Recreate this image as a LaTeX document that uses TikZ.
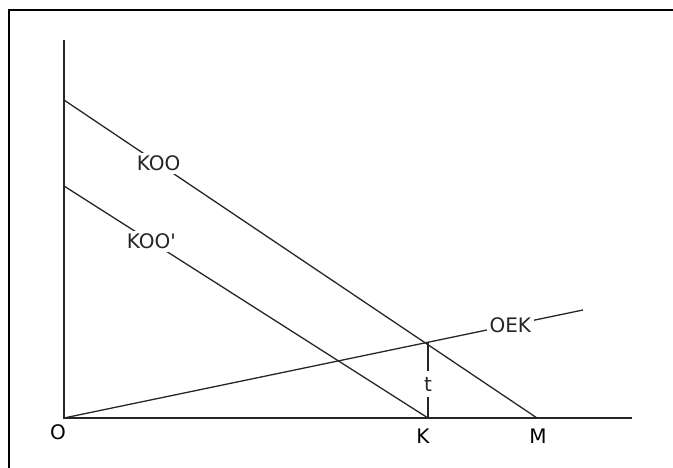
\documentclass[tikz,border=0pt]{standalone}
\usepackage{fontspec}
\setmainfont{DejaVu Sans}
\usetikzlibrary{calc}

\begin{document}
\begin{tikzpicture}[x=1pt, y=-1pt,
    axisline/.style={line width=1.8pt, black!85},
    curveline/.style={line width=1.3pt, black!85},
    lbl/.style={font=\fontsize{20}{22}\selectfont, fill=white, inner sep=3pt},
    tick/.style={font=\fontsize{20}{22}\selectfont, inner sep=0pt}]

    \useasboundingbox (0,0) rectangle (673,468);

    % ;- frame ;-
    \draw[line width=2pt] (9,490) -- (9,10) -- (700,10);

    % ;- axes ;-
    \coordinate (O) at (64,418);
    \coordinate (ytop) at (64,40);
    \coordinate (xend) at (632,418);
    \coordinate (K) at (428,418);
    \coordinate (M) at (537,418);
    \draw[axisline] (ytop) -- (O) -- (xend);
    \node[tick] (lO) at (58,432) {O};
    \node[tick] (lK) at (423,436) {K};
    \node[tick] (lM) at (538,436) {M};

    % ;- demand lines ;-
    \coordinate (koo0) at (64,100);
    \coordinate (koop0) at (64,186);
    \draw[curveline] (koo0) -- (M) node[lbl, pos=0.2] (lkoo) {KOO};
    \draw[curveline] (koop0) -- (K) node[lbl, pos=0.24] (lkoop) {KOO\textquotesingle};

    % ;- supply line ;-
    \coordinate (oek1) at (583,310);
    \draw[curveline] (O) -- (oek1) node[lbl, pos=0.86] (loek) {OEK};

    % ;- tax wedge ;-
    \coordinate (X) at (intersection of O--oek1 and koo0--M);
    \draw[line width=1.6pt, black!85] (K) -- (K |- X)
        node[lbl, inner ysep=6pt, pos=0.45] (lt) {t};

\end{tikzpicture}
\end{document}
